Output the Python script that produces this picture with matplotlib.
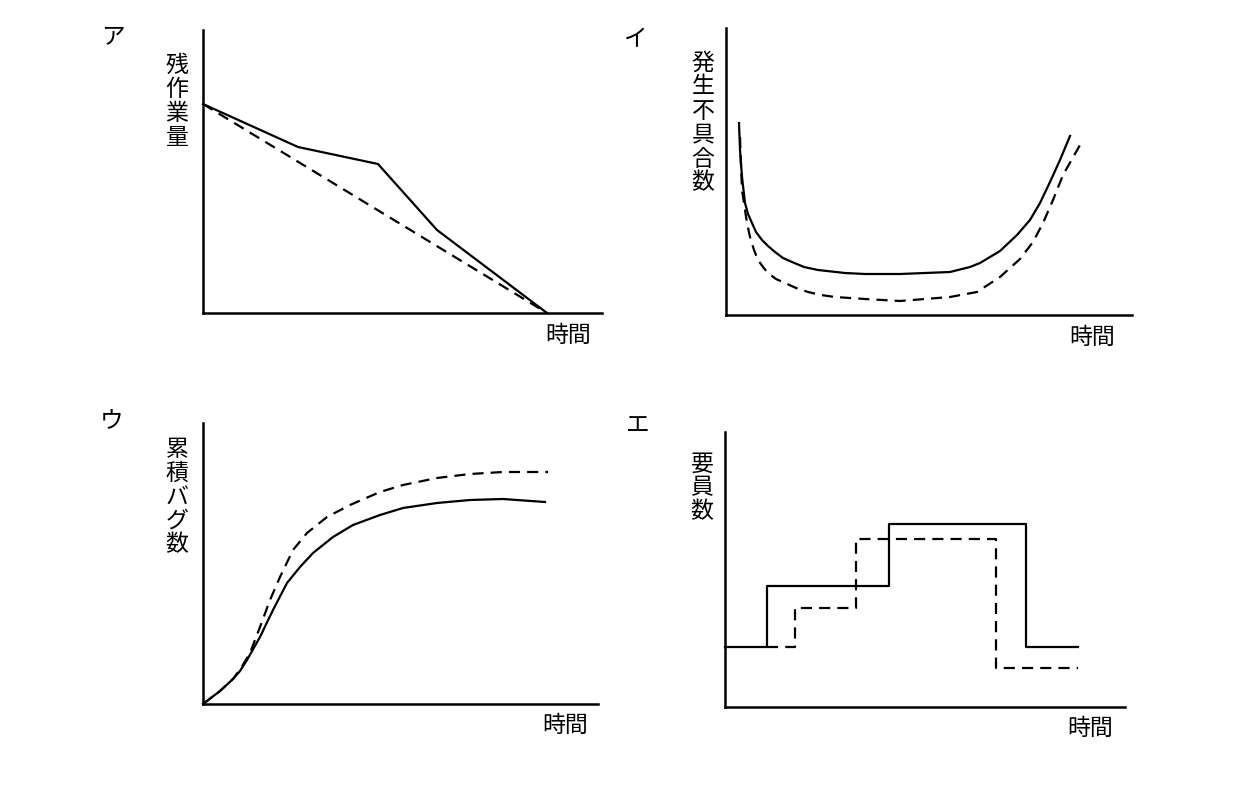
import matplotlib
matplotlib.use("Agg")
import matplotlib.pyplot as plt

plt.rcParams['font.family'] = ['Noto Sans CJK JP', 'DejaVu Sans']

W, H = 1240, 800

# ---- data (arbitrary units) ----
# ア: remaining work
a_time_actual = [0, 95, 175, 234, 344]
a_work_actual = [209, 166, 149, 83, 0]
a_time_plan = [0, 344]
a_work_plan = [209, 0]

# イ: defects found (bathtub)
i_time_solid = [13, 14, 16, 19, 22, 26, 30, 36, 42, 49, 57, 66, 78, 92, 119, 139, 174, 224,
                244, 254, 274, 291, 304, 314, 324, 334, 344]
i_defects_solid = [192, 165, 138, 112, 101, 92, 83, 75, 69, 63, 57, 53, 48, 45, 42, 41, 41, 43,
                   48, 52, 64, 80, 95, 112, 133, 155, 179]
i_time_dash = [14, 15, 16, 19, 21, 24, 28, 32, 37, 42, 50, 59, 70, 82, 95, 109, 139, 174, 224,
               251, 254, 274, 294, 307, 317, 327, 337, 354]
i_defects_dash = [178, 150, 125, 105, 92, 78, 65, 55, 48, 42, 36, 32, 27, 23, 20, 18, 16, 14, 18,
                  23, 25, 38, 56, 73, 92, 115, 140, 170]

# ウ: cumulative bugs
u_time_solid = [0, 17, 30, 37, 44, 57, 70, 84, 97, 110, 130, 150, 177, 200, 234, 267, 300, 342]
u_bugs_solid = [0, 13, 25, 33, 44, 67, 94, 121, 137, 151, 167, 179, 189, 196, 201, 204, 205, 202]
u_time_dash = [0, 17, 30, 38, 47, 57, 67, 77, 90, 104, 124, 147, 177, 200, 234, 267, 300, 345]
u_bugs_dash = [0, 13, 25, 36, 51, 77, 104, 127, 154, 171, 187, 199, 212, 219, 226, 230, 232, 232]

# エ: staff (step)
e_time_solid = [0, 42, 164, 301, 353]
e_staff_solid = [60, 121, 183, 60, 60]
e_time_dash = [42, 70, 131, 271, 353]
e_staff_dash = [60, 99, 168, 39, 39]

LW = 1.6
DASH = (0, (5, 3.2))


def make_axes(fig, left, bottom, right, top):
    ax = fig.add_axes([left / W, 1 - bottom / H, (right - left) / W, (bottom - top) / H])
    ax.set_xlim(0, right - left)
    ax.set_ylim(0, bottom - top)
    for s in ('top', 'right'):
        ax.spines[s].set_visible(False)
    for s in ('left', 'bottom'):
        ax.spines[s].set_linewidth(1.8)
        ax.spines[s].set_color('black')
    ax.set_xticks([])
    ax.set_yticks([])
    ax.patch.set_alpha(0)
    return ax


def put(fig, x, y, s, size=16.5, **kw):
    fig.text(x / W, 1 - y / H, s, ha='center', va='center', fontsize=size, **kw)


def vlabel(fig, x, y_center, label, step=24):
    n = len(label)
    y0 = y_center - step * (n - 1) / 2
    for k, ch in enumerate(label):
        put(fig, x, y0 + k * step, ch)


def curve(ax, x, y, dashed=False, **kw):
    ax.plot(x, y, color='black', lw=LW, ls=DASH if dashed else '-',
            solid_joinstyle='round', dash_joinstyle='round', clip_on=False, **kw)


fig = plt.figure(figsize=(W / 100, H / 100), dpi=100)

# ア
ax = make_axes(fig, 203, 313, 602, 30)
curve(ax, a_time_actual, a_work_actual)
curve(ax, a_time_plan, a_work_plan, dashed=True)
put(fig, 113, 38, 'ア', size=17)
vlabel(fig, 177, 101, '残作業量')
put(fig, 568, 335, '時間')

# イ
ax = make_axes(fig, 726, 315, 1132, 28)
curve(ax, i_time_solid, i_defects_solid)
curve(ax, i_time_dash, i_defects_dash, dashed=True)
put(fig, 636, 40, 'イ', size=17)
vlabel(fig, 703, 123, '発生不具合数')
put(fig, 1092, 337, '時間')

# ウ
ax = make_axes(fig, 203, 704, 598, 423)
curve(ax, u_time_solid, u_bugs_solid)
curve(ax, u_time_dash, u_bugs_dash, dashed=True)
put(fig, 112, 422, 'ウ', size=17)
vlabel(fig, 177, 497, '累積バグ数')
put(fig, 565, 725, '時間')

# エ
ax = make_axes(fig, 725, 707, 1125, 432)
curve(ax, e_time_solid, e_staff_solid, drawstyle='steps-post')
curve(ax, e_time_dash, e_staff_dash, dashed=True, drawstyle='steps-post')
put(fig, 638, 425, 'エ', size=17)
vlabel(fig, 702, 488, '要員数')
put(fig, 1090, 728, '時間')

fig.savefig('out.png', dpi=100, facecolor='white')
